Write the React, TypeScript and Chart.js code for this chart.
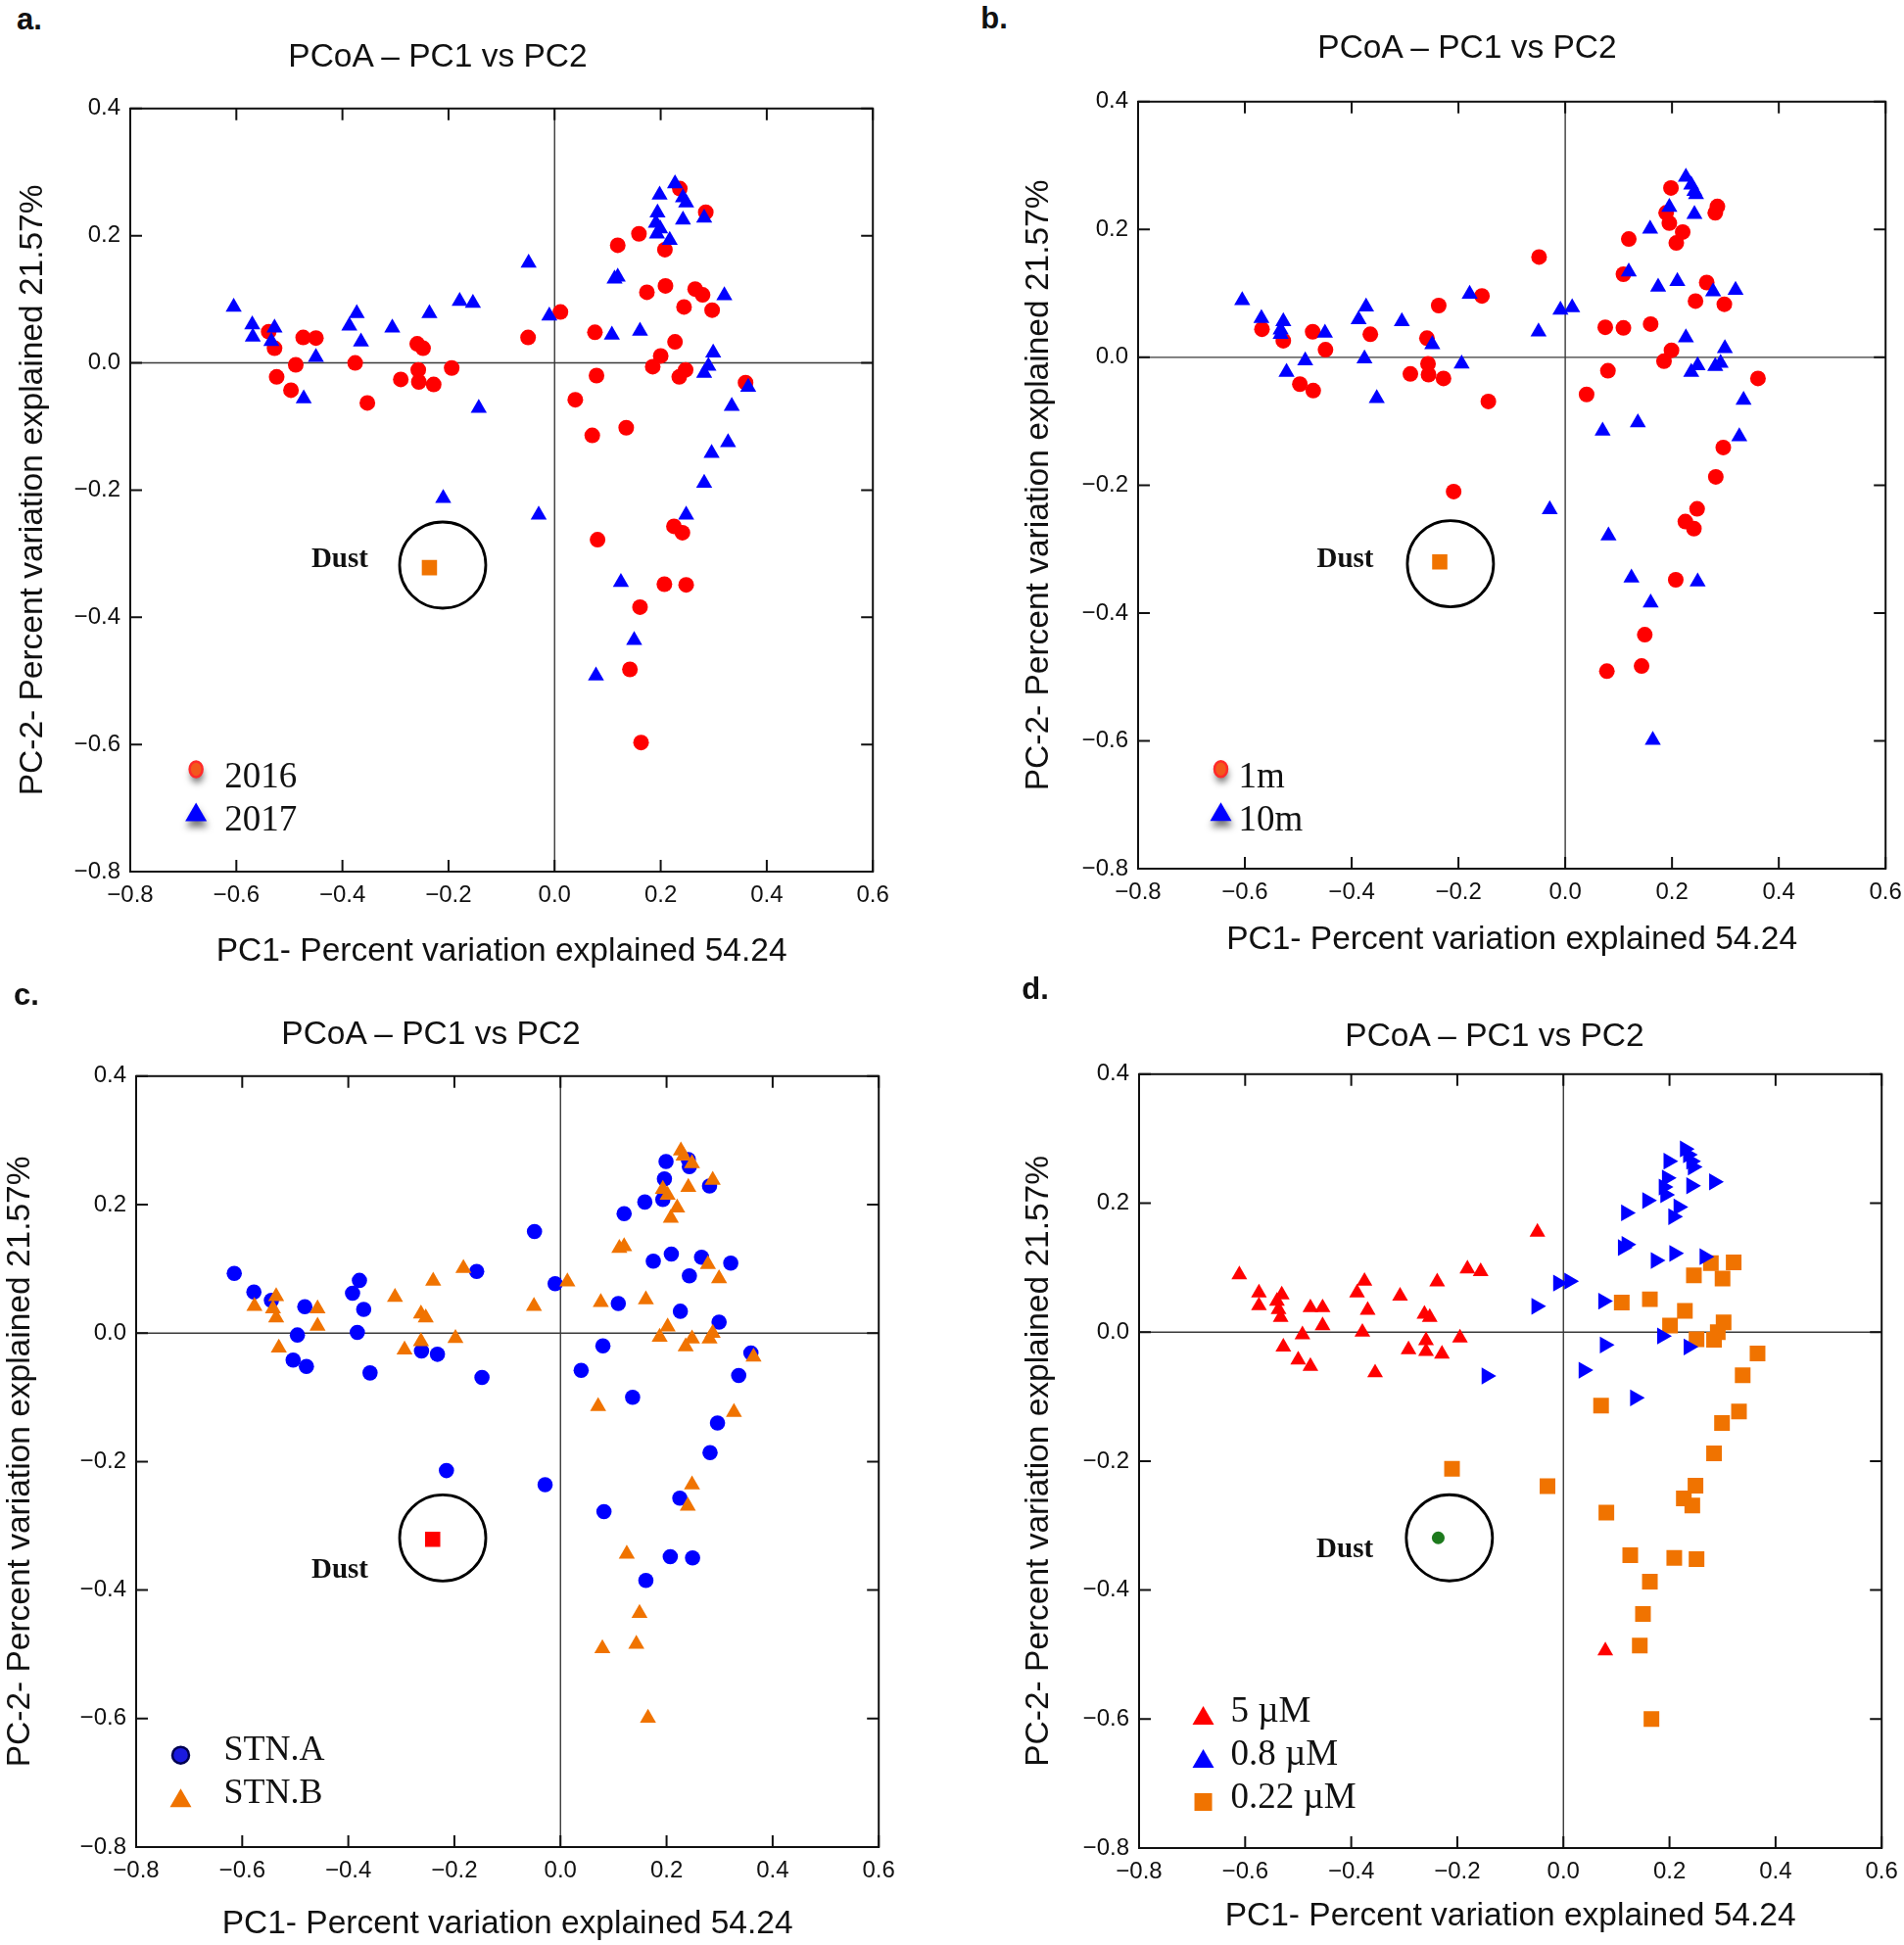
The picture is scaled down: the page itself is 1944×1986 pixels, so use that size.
import React, { useEffect, useRef } from 'react';
import { Chart, registerables } from 'chart.js';

Chart.register(...registerables);

type Pt = [number, number];

// ---------- tick labels & texts ----------
const xTickValues = [-0.8, -0.6, -0.4, -0.2, 0, 0.2, 0.4, 0.6];
const yTickValues = [-0.8, -0.6, -0.4, -0.2, 0, 0.2, 0.4];
const panelLetters = ['a.', 'b.', 'c.', 'd.'];
const panelTitle = 'PCoA \u2013 PC1 vs PC2';
const xAxisTitle = 'PC1- Percent variation explained 54.24';
const yAxisTitle = 'PC-2- Percent variation explained 21.57%';
const dustText = 'Dust';

const legendA = ['2016', '2017'];
const legendB = ['1m', '10m'];
const legendC = ['STN.A', 'STN.B'];
const legendD = ['5 \u00b5M', '0.8 \u00b5M', '0.22 \u00b5M'];

// ---------- panel a ----------
const a2016: Pt[] = [
  [-0.539, 0.049], [-0.528, 0.023], [-0.474, 0.040], [-0.450, 0.039], [-0.488, -0.003], [-0.524, -0.022],
  [-0.497, -0.043], [-0.376, 0.000], [-0.353, -0.063], [-0.259, 0.030], [-0.248, 0.023], [-0.257, -0.011],
  [-0.290, -0.026], [-0.256, -0.030], [-0.228, -0.034], [-0.194, -0.008],
  [0.236, 0.274], [0.285, 0.237], [0.159, 0.203], [0.119, 0.185], [0.208, 0.178], [0.174, 0.111],
  [0.209, 0.121], [0.265, 0.116], [0.279, 0.107], [0.244, 0.088], [0.297, 0.083], [0.011, 0.080],
  [-0.050, 0.040], [0.076, 0.048], [0.227, 0.033], [0.200, 0.011], [0.185, -0.006], [0.247, -0.011],
  [0.235, -0.022], [0.360, -0.031], [0.079, -0.020], [0.039, -0.058], [0.071, -0.114], [0.135, -0.102],
  [0.225, -0.257], [0.241, -0.267], [0.081, -0.278], [0.207, -0.348], [0.248, -0.349], [0.161, -0.384],
  [0.142, -0.482], [0.163, -0.597],
];
const a2017: Pt[] = [
  [-0.605, 0.088], [-0.570, 0.060], [-0.569, 0.041], [-0.528, 0.055], [-0.534, 0.034], [-0.450, 0.009],
  [-0.473, -0.056], [-0.373, 0.078], [-0.387, 0.058], [-0.365, 0.033], [-0.306, 0.055], [-0.236, 0.078],
  [-0.179, 0.097], [-0.154, 0.094], [-0.143, -0.071], [-0.210, -0.213],
  [0.227, 0.282], [0.198, 0.264], [0.242, 0.260], [0.248, 0.252], [0.194, 0.236], [0.191, 0.220],
  [0.199, 0.211], [0.193, 0.203], [0.217, 0.193], [0.242, 0.225], [0.282, 0.228], [-0.049, 0.157],
  [0.113, 0.132], [0.119, 0.135], [-0.010, 0.074], [0.108, 0.044], [0.161, 0.050], [0.320, 0.106],
  [0.299, 0.016], [0.290, -0.005], [0.282, -0.016], [0.365, -0.038], [0.334, -0.068], [0.327, -0.125],
  [0.296, -0.142], [0.282, -0.189], [0.248, -0.239], [-0.030, -0.239], [0.125, -0.345], [0.150, -0.436],
  [0.078, -0.492],
];
const aDust: Pt[] = [[-0.236, -0.322]];
const aRing: Pt[] = [[-0.211, -0.318]];
const aDustLabel: Pt[] = [[-0.405, -0.309]];
const aLegendAnchor: Pt = [-0.676, -0.639];

// ---------- panel b ----------
const b1m: Pt[] = [
  [-0.568, 0.044], [-0.528, 0.026], [-0.473, 0.040], [-0.449, 0.012], [-0.497, -0.042], [-0.472, -0.052],
  [-0.365, 0.036], [-0.237, 0.081], [-0.156, 0.096], [-0.259, 0.030], [-0.257, -0.010], [-0.290, -0.026],
  [-0.256, -0.027], [-0.228, -0.033], [-0.144, -0.069], [-0.209, -0.210],
  [0.198, 0.265], [0.285, 0.236], [0.281, 0.226], [0.189, 0.226], [0.195, 0.210], [0.220, 0.196],
  [0.208, 0.179], [0.119, 0.185], [-0.049, 0.157], [0.109, 0.130], [0.265, 0.117], [0.244, 0.088],
  [0.298, 0.083], [0.075, 0.047], [0.109, 0.046], [0.160, 0.052], [0.199, 0.011], [0.185, -0.006],
  [0.080, -0.021], [0.040, -0.058], [0.361, -0.033], [0.296, -0.141], [0.282, -0.187], [0.247, -0.237],
  [0.225, -0.257], [0.241, -0.268], [0.207, -0.348], [0.149, -0.434], [0.143, -0.483], [0.078, -0.491],
];
const b10m: Pt[] = [
  [-0.605, 0.089], [-0.569, 0.061], [-0.528, 0.056], [-0.533, 0.043], [-0.533, 0.036], [-0.450, 0.038],
  [-0.487, -0.005], [-0.522, -0.023], [-0.373, 0.079], [-0.387, 0.059], [-0.306, 0.056], [-0.376, -0.002],
  [-0.353, -0.064], [-0.249, 0.020], [-0.194, -0.010], [-0.179, 0.099],
  [0.226, 0.282], [0.236, 0.270], [0.242, 0.260], [0.245, 0.255], [0.195, 0.235], [0.242, 0.224],
  [0.159, 0.201], [0.119, 0.134], [0.174, 0.110], [0.210, 0.119], [0.277, 0.103], [0.319, 0.105],
  [-0.009, 0.074], [0.013, 0.078], [-0.050, 0.040], [0.226, 0.031], [0.299, 0.014], [0.291, -0.009],
  [0.281, -0.014], [0.248, -0.013], [0.236, -0.023], [0.334, -0.067], [0.326, -0.124], [0.070, -0.115],
  [0.136, -0.102], [-0.029, -0.238], [0.081, -0.279], [0.124, -0.345], [0.248, -0.351], [0.160, -0.384],
  [0.164, -0.599],
];
const bDust: Pt[] = [[-0.235, -0.320]];
const bRing: Pt[] = [[-0.215, -0.323]];
const bDustLabel: Pt[] = [[-0.412, -0.316]];
const bLegendAnchor: Pt = [-0.645, -0.644];

// ---------- panel c ----------
const cStnA: Pt[] = [
  [-0.615, 0.093], [-0.578, 0.064], [-0.545, 0.051], [-0.482, 0.041], [-0.496, -0.003], [-0.504, -0.042],
  [-0.479, -0.052], [-0.379, 0.082], [-0.392, 0.062], [-0.371, 0.037], [-0.383, 0.001], [-0.359, -0.062],
  [-0.262, -0.028], [-0.232, -0.033], [-0.158, 0.096], [-0.148, -0.069], [-0.215, -0.214],
  [0.199, 0.267], [0.241, 0.270], [0.243, 0.259], [0.196, 0.240], [0.281, 0.229], [0.159, 0.204],
  [0.193, 0.208], [0.120, 0.186], [-0.049, 0.158], [0.175, 0.112], [0.209, 0.123], [0.266, 0.118],
  [0.321, 0.109], [0.243, 0.089], [-0.010, 0.077], [0.109, 0.046], [0.226, 0.034], [0.299, 0.017],
  [0.080, -0.020], [0.039, -0.058], [0.136, -0.100], [0.359, -0.031], [0.336, -0.066], [0.296, -0.140],
  [0.282, -0.186], [0.225, -0.257], [-0.029, -0.236], [0.082, -0.278], [0.207, -0.348], [0.249, -0.350],
  [0.161, -0.385],
];
const cStnB: Pt[] = [
  [-0.577, 0.042], [-0.536, 0.057], [-0.542, 0.038], [-0.536, 0.024], [-0.458, 0.038], [-0.458, 0.011],
  [-0.531, -0.023], [-0.312, 0.056], [-0.263, 0.030], [-0.254, 0.024], [-0.263, -0.013], [-0.294, -0.026],
  [-0.198, -0.008], [-0.240, 0.081], [-0.183, 0.101],
  [0.227, 0.284], [0.232, 0.276], [0.248, 0.264], [0.287, 0.238], [0.241, 0.227], [0.193, 0.224],
  [0.202, 0.215], [0.220, 0.195], [0.208, 0.179], [0.111, 0.132], [0.120, 0.135], [0.278, 0.107],
  [0.299, 0.085], [0.013, 0.080], [-0.050, 0.042], [0.076, 0.048], [0.161, 0.052], [0.202, 0.010],
  [0.187, -0.006], [0.248, -0.009], [0.236, -0.021], [0.287, 0.000], [0.281, -0.009], [0.364, -0.037],
  [0.071, -0.114], [0.327, -0.123], [0.248, -0.236], [0.240, -0.269], [0.125, -0.344], [0.149, -0.436],
  [0.143, -0.484], [0.079, -0.491], [0.165, -0.599],
];
const cDust: Pt[] = [[-0.241, -0.321]];
const cRing: Pt[] = [[-0.222, -0.319]];
const cDustLabel: Pt[] = [[-0.416, -0.369]];
const cLegendAnchor: Pt = [-0.716, -0.657];

// ---------- panel d ----------
const d5uM: Pt[] = [
  [-0.611, 0.089], [-0.574, 0.061], [-0.574, 0.041], [-0.531, 0.058], [-0.540, 0.048], [-0.537, 0.035],
  [-0.533, 0.023], [-0.477, 0.038], [-0.454, 0.038], [-0.454, 0.010], [-0.492, -0.004], [-0.528, -0.023],
  [-0.500, -0.043], [-0.477, -0.053], [-0.375, 0.079], [-0.389, 0.061], [-0.369, 0.034], [-0.379, 0.000],
  [-0.355, -0.063], [-0.308, 0.056], [-0.262, 0.028], [-0.252, 0.023], [-0.259, -0.013], [-0.292, -0.027],
  [-0.259, -0.030], [-0.229, -0.034], [-0.195, -0.009], [-0.238, 0.078], [-0.181, 0.098], [-0.156, 0.094],
  [-0.049, 0.155], [0.079, -0.494],
];
const d08uM: Pt[] = [
  [-0.145, -0.068], [-0.051, 0.040], [-0.010, 0.076], [0.011, 0.079],
  [0.229, 0.284], [0.235, 0.275], [0.241, 0.265], [0.244, 0.256], [0.198, 0.265], [0.195, 0.239],
  [0.189, 0.225], [0.192, 0.213], [0.241, 0.227], [0.284, 0.233], [0.158, 0.204], [0.118, 0.185],
  [0.217, 0.194], [0.207, 0.179], [0.112, 0.131], [0.119, 0.136], [0.174, 0.111], [0.209, 0.122],
  [0.266, 0.117], [0.075, 0.048], [0.078, -0.020], [0.038, -0.059], [0.135, -0.102], [0.186, -0.006],
  [0.236, -0.023],
];
const d022uM: Pt[] = [
  [0.321, 0.108], [0.278, 0.107], [0.246, 0.088], [0.300, 0.083], [0.110, 0.046], [0.163, 0.051],
  [0.229, 0.033], [0.201, 0.010], [0.302, 0.015], [0.291, 0.000], [0.284, -0.012], [0.251, -0.011],
  [0.366, -0.033], [0.338, -0.067], [0.331, -0.123], [0.299, -0.141], [0.284, -0.188], [0.249, -0.238],
  [0.227, -0.258], [0.243, -0.269], [0.071, -0.114], [-0.030, -0.239], [0.081, -0.280], [0.126, -0.346],
  [0.209, -0.350], [0.251, -0.352], [0.163, -0.387], [0.150, -0.437], [0.144, -0.486], [0.166, -0.600],
  [-0.210, -0.212],
];
const dDust: Pt[] = [[-0.236, -0.319]];
const dRing: Pt[] = [[-0.215, -0.319]];
const dDustLabel: Pt[] = [[-0.412, -0.337]];
const dLegendAnchor: Pt = [-0.679, -0.595];

// ---------- styling ----------
const RED = '#ff0000';
const BLUE = '#0000ff';
const ORANGE = '#f07300';
const GREEN = '#1d7a1d';
const SANS = '"Liberation Sans", Arial, Helvetica, sans-serif';
const SERIF = '"Liberation Serif", "DejaVu Serif", serif';
const YW = 140; // y-axis box width
const XH = 110; // x-axis box height
const PADT = 20;
const PADR = 30;
const TICK = 12;
const TITLE_SIZE = 33.5;

interface SeriesSpec { points: Pt[]; style: string; rotation?: number; radius: number; color: string; }
interface LegendSpec {
  labels: string[]; kinds: string[]; fills: string[]; strokes: (string | null)[];
  anchor: Pt; spacing: number; textDx: number; textDy: number; shadow: boolean; size: number;
}
interface PanelSpec {
  plot: { l: number; t: number; r: number; b: number };
  series: SeriesSpec[];
  dust: Pt[]; dustStyle: string; dustColor: string; dustRadius: number;
  ring: Pt[]; dustLabel: Pt[];
  legend: LegendSpec;
  yTitlePad: number; xTitlePad: number;
  title: [number, number]; letter: [number, number];
}

const panels: PanelSpec[] = [
  {
    plot: { l: 133, t: 111, r: 891, b: 890 },
    series: [
      { points: a2017, style: 'triangle', radius: 9.5, color: BLUE },
      { points: a2016, style: 'circle', radius: 8, color: RED },
    ],
    dust: aDust, dustStyle: 'rect', dustColor: ORANGE, dustRadius: 11,
    ring: aRing, dustLabel: aDustLabel,
    legend: { labels: legendA, kinds: ['ellipse', 'triangle'], fills: ['#f2581c', BLUE], strokes: ['#ff2a2a', null],
      anchor: aLegendAnchor, spacing: 44, textDx: 29, textDy: 9, shadow: true, size: 37 },
    yTitlePad: 21, xTitlePad: 8, title: [447, 57], letter: [30, 19],
  },
  {
    plot: { l: 1162, t: 104, r: 1925, b: 887 },
    series: [
      { points: b10m, style: 'triangle', radius: 9.5, color: BLUE },
      { points: b1m, style: 'circle', radius: 8, color: RED },
    ],
    dust: bDust, dustStyle: 'rect', dustColor: ORANGE, dustRadius: 11,
    ring: bRing, dustLabel: bDustLabel,
    legend: { labels: legendB, kinds: ['ellipse', 'triangle'], fills: ['#f2581c', BLUE], strokes: ['#ff2a2a', null],
      anchor: bLegendAnchor, spacing: 44, textDx: 18, textDy: 9, shadow: true, size: 37 },
    yTitlePad: 19, xTitlePad: 17, title: [1498, 48], letter: [1015, 18],
  },
  {
    plot: { l: 139, t: 1099, r: 897, b: 1886 },
    series: [
      { points: cStnB, style: 'triangle', radius: 9.5, color: ORANGE },
      { points: cStnA, style: 'circle', radius: 7.8, color: BLUE },
    ],
    dust: cDust, dustStyle: 'rect', dustColor: RED, dustRadius: 11,
    ring: cRing, dustLabel: cDustLabel,
    legend: { labels: legendC, kinds: ['circle', 'triangle'], fills: ['#1a1ae0', ORANGE], strokes: ['#000050', null],
      anchor: cLegendAnchor, spacing: 44, textDx: 44, textDy: -5, shadow: false, size: 36 },
    yTitlePad: 2, xTitlePad: 11, title: [440, 1055], letter: [27, 1015],
  },
  {
    plot: { l: 1163, t: 1097, r: 1921, b: 1887 },
    series: [
      { points: d5uM, style: 'triangle', radius: 9.3, color: RED },
      { points: d08uM, style: 'triangle', rotation: 90, radius: 10, color: BLUE },
      { points: d022uM, style: 'rect', radius: 11.3, color: ORANGE },
    ],
    dust: dDust, dustStyle: 'circle', dustColor: GREEN, dustRadius: 6.5,
    ring: dRing, dustLabel: dDustLabel,
    legend: { labels: legendD, kinds: ['triangle', 'triangle', 'square'], fills: [RED, BLUE, ORANGE], strokes: [null, null, null],
      anchor: dLegendAnchor, spacing: 44, textDx: 28, textDy: -4, shadow: false, size: 37 },
    yTitlePad: 18, xTitlePad: 20, title: [1526, 1057], letter: [1057, 1009],
  },
];

const fmt = (v: any) => {
  const n = Math.round(Number(v) * 10) / 10;
  return (n < 0 ? '\u2212' : '') + Math.abs(n).toFixed(1);
};

function drawLegendMarker(ctx: CanvasRenderingContext2D, kind: string, cx: number, cy: number,
  fill: string, stroke: string | null, shadow: boolean) {
  ctx.save();
  if (shadow) {
    ctx.shadowColor = 'rgba(0,0,0,0.55)';
    ctx.shadowBlur = 7;
    ctx.shadowOffsetX = 1;
    ctx.shadowOffsetY = 6;
  }
  ctx.fillStyle = fill;
  ctx.beginPath();
  if (kind === 'ellipse') ctx.ellipse(cx, cy, 6.5, 8, 0, 0, Math.PI * 2);
  else if (kind === 'circle') ctx.arc(cx, cy, 8.5, 0, Math.PI * 2);
  else if (kind === 'triangle') { ctx.moveTo(cx, cy - 10); ctx.lineTo(cx + 11, cy + 9); ctx.lineTo(cx - 11, cy + 9); ctx.closePath(); }
  else ctx.rect(cx - 9, cy - 9, 18, 18);
  ctx.fill();
  if (stroke) {
    ctx.shadowColor = 'rgba(0,0,0,0)';
    ctx.lineWidth = 2.5;
    ctx.strokeStyle = stroke;
    ctx.stroke();
  }
  ctx.restore();
}

function makeDecor(spec: PanelSpec) {
  return {
    id: 'pcoaDecor',
    beforeDatasetsDraw(chart: any) {
      const { ctx, chartArea } = chart;
      const { left, right, top, bottom } = chartArea;
      const xs = chart.scales.x, ys = chart.scales.y;
      const x0 = xs.getPixelForValue(0), y0 = ys.getPixelForValue(0);
      ctx.save();
      ctx.strokeStyle = '#3a3a3a';
      ctx.lineWidth = 1.4;
      ctx.beginPath();
      ctx.moveTo(x0, top); ctx.lineTo(x0, bottom);
      ctx.moveTo(left, y0); ctx.lineTo(right, y0);
      ctx.stroke();
      ctx.restore();
    },
    afterDatasetsDraw(chart: any) {
      const { ctx, chartArea } = chart;
      const { left, right, top, bottom } = chartArea;
      const xs = chart.scales.x, ys = chart.scales.y;
      ctx.save();
      ctx.strokeStyle = '#111';
      ctx.lineWidth = 2;
      ctx.strokeRect(left, top, right - left, bottom - top);
      ctx.beginPath();
      xTickValues.forEach((v) => {
        const px = xs.getPixelForValue(v);
        ctx.moveTo(px, top); ctx.lineTo(px, top + TICK);
        ctx.moveTo(px, bottom); ctx.lineTo(px, bottom - TICK);
      });
      yTickValues.forEach((v) => {
        const py = ys.getPixelForValue(v);
        ctx.moveTo(left, py); ctx.lineTo(left + TICK, py);
        ctx.moveTo(right, py); ctx.lineTo(right - TICK, py);
      });
      ctx.stroke();

      // Dust label
      ctx.fillStyle = '#111';
      ctx.font = `bold 29px ${SERIF}`;
      ctx.textAlign = 'center';
      ctx.textBaseline = 'middle';
      spec.dustLabel.forEach(([lx, ly]) => {
        ctx.fillText(dustText, xs.getPixelForValue(lx), ys.getPixelForValue(ly));
      });

      // Legend
      const lg = spec.legend;
      const ax = xs.getPixelForValue(lg.anchor[0]);
      const ay = ys.getPixelForValue(lg.anchor[1]);
      lg.labels.forEach((label, i) => {
        const cy = ay + i * lg.spacing;
        drawLegendMarker(ctx, lg.kinds[i], ax, cy, lg.fills[i], lg.strokes[i], lg.shadow);
        ctx.fillStyle = '#111';
        ctx.font = `${lg.size}px ${SERIF}`;
        ctx.textAlign = 'left';
        ctx.textBaseline = 'middle';
        ctx.fillText(label, ax + lg.textDx, cy + lg.textDy);
      });
      ctx.restore();
    },
  };
}

function buildConfig(spec: PanelSpec): any {
  const toXY = (pts: Pt[]) => pts.map(([x, y]) => ({ x, y }));
  const datasets: any[] = spec.series.map((s, i) => ({
    label: 'series' + i,
    data: toXY(s.points),
    pointStyle: s.style,
    rotation: s.rotation || 0,
    pointRadius: s.radius,
    pointHoverRadius: s.radius,
    backgroundColor: s.color,
    borderColor: s.color,
    borderWidth: 0,
    showLine: false,
  }));
  datasets.unshift({
    label: 'dust',
    data: toXY(spec.dust),
    pointStyle: spec.dustStyle,
    pointRadius: spec.dustRadius,
    pointHoverRadius: spec.dustRadius,
    backgroundColor: spec.dustColor,
    borderColor: spec.dustColor,
    borderWidth: 0,
    showLine: false,
  });
  datasets.unshift({
    label: 'ring',
    data: toXY(spec.ring),
    pointStyle: 'circle',
    pointRadius: 44,
    pointHoverRadius: 44,
    backgroundColor: 'rgba(0,0,0,0)',
    borderColor: '#000',
    borderWidth: 2.8,
    showLine: false,
  });
  const tickFont = { family: SANS, size: 24 };
  const titleFont = { family: SANS, size: TITLE_SIZE };
  return {
    type: 'scatter',
    data: { datasets },
    options: {
      animation: false,
      responsive: false,
      maintainAspectRatio: false,
      devicePixelRatio: 1,
      events: [],
      layout: { padding: { top: PADT, right: PADR, left: 0, bottom: 0 } },
      plugins: { legend: { display: false }, tooltip: { enabled: false }, title: { display: false } },
      scales: {
        x: {
          type: 'linear', position: 'bottom', min: -0.8, max: 0.6,
          afterFit: (s: any) => { s.height = XH; },
          afterBuildTicks: (s: any) => { s.ticks = xTickValues.map((v) => ({ value: v })); },
          grid: { display: false, drawTicks: false },
          border: { display: false },
          ticks: { padding: 10, font: tickFont, color: '#111', callback: fmt, maxRotation: 0, autoSkip: false },
          title: { display: true, text: xAxisTitle, font: titleFont, color: '#111', padding: { top: 0, bottom: spec.xTitlePad } },
        },
        y: {
          type: 'linear', position: 'left', min: -0.8, max: 0.4,
          afterFit: (s: any) => { s.width = YW; },
          afterBuildTicks: (s: any) => { s.ticks = yTickValues.map((v) => ({ value: v })); },
          grid: { display: false, drawTicks: false },
          border: { display: false },
          ticks: { padding: 10, font: tickFont, color: '#111', callback: fmt, autoSkip: false },
          title: { display: true, text: yAxisTitle, font: titleFont, color: '#111', padding: { top: spec.yTitlePad, bottom: 0 } },
        },
      },
    },
    plugins: [makeDecor(spec)],
  };
}

function Panel({ spec }: { spec: PanelSpec }) {
  const ref = useRef<HTMLCanvasElement>(null);
  const { l, t, r, b } = spec.plot;
  const w0 = r - l + YW + PADR;
  const h0 = b - t + PADT + XH;
  useEffect(() => {
    const canvas = ref.current;
    if (!canvas) return;
    const chart = new Chart(canvas, buildConfig(spec));
    // Fit the plot area exactly to the target rectangle
    const ca = chart.chartArea;
    const extraW = w0 - (ca.right - ca.left);
    const extraH = h0 - (ca.bottom - ca.top);
    const W = Math.round(r - l + extraW);
    const H = Math.round(b - t + extraH);
    chart.resize(W, H);
    const ca2 = chart.chartArea;
    canvas.style.left = `${l - ca2.left}px`;
    canvas.style.top = `${t - ca2.top}px`;
    return () => chart.destroy();
  }, [spec]);
  return (
    <canvas
      ref={ref}
      width={w0}
      height={h0}
      style={{ position: 'absolute', left: l - YW, top: t - PADT, width: w0, height: h0 }}
    />
  );
}

export default function App() {
  return (
    <div style={{ position: 'absolute', left: 0, top: 0, width: 1944, height: 1986, overflow: 'hidden', background: '#fff' }}>
      {panels.map((p, i) => (
        <React.Fragment key={i}>
          <Panel spec={p} />
          <div style={{ position: 'absolute', left: p.title[0], top: p.title[1], transform: 'translate(-50%, -50%)',
            fontFamily: SANS, fontSize: TITLE_SIZE, color: '#111', whiteSpace: 'nowrap', lineHeight: 1 }}>
            {panelTitle}
          </div>
          <div style={{ position: 'absolute', left: p.letter[0], top: p.letter[1], transform: 'translate(-50%, -50%)',
            fontFamily: SANS, fontWeight: 'bold', fontSize: 31, color: '#111', whiteSpace: 'nowrap', lineHeight: 1 }}>
            {panelLetters[i]}
          </div>
        </React.Fragment>
      ))}
    </div>
  );
}
